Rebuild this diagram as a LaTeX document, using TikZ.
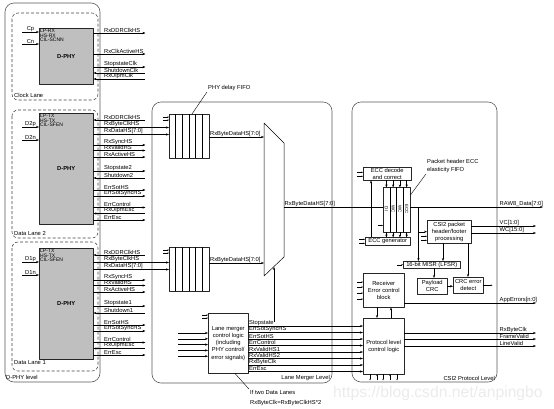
\documentclass[tikz,border=0pt]{standalone}
\usepackage{fontspec}
\setmainfont{Liberation Sans}
\usetikzlibrary{arrows.meta,positioning,calc}
\begin{document}
\begin{tikzpicture}[x=1pt, y=-1pt, font=\fontsize{5.8}{6.8}\selectfont,
    line join=round, >={Stealth[length=3pt,width=2.2pt]},
    blk/.style={draw=black!85, line width=0.45pt, fill=white, inner sep=0pt, anchor=north west, align=center},
    phy/.style={blk, fill=black!25},
    lane/.style={draw=black!75, line width=0.55pt, dash pattern=on 3pt off 2pt, rounded corners=6pt},
    level/.style={draw=black!65, line width=0.6pt, rounded corners=9pt},
    sig/.style={line width=0.4pt},
    o/.style={sig,->}, i/.style={sig,<-},
    lbl/.style={anchor=south west, inner sep=0.5pt},
    tick/.style={line width=0.3pt, -{Stealth[length=1.6pt,width=1.3pt]}},
    ptr/.style={line width=0.4pt},
    phytxt/.style={anchor=north west, align=left, inner sep=1pt, font=\fontsize{5}{4.4}\selectfont}]
\useasboundingbox (0,0) rectangle (554,408);

\node[text=black!8, font=\fontsize{15.7}{16}\selectfont, anchor=base west, inner sep=0pt] (wm) at (333,397) {https://blog.csdn.net/anpingbo};

% D-PHY level
\draw[level] (5,3) rectangle (100,382);
\node[anchor=west, inner sep=1pt] (phylvl) at (5,377) {D-PHY level};

\draw[lane] (12,13) rectangle (98,100);
\node[anchor=west, inner sep=1pt] (clklbl) at (13,95) {Clock Lane};
\draw[lane] (12,110) rectangle (98,238);
\node[anchor=west, inner sep=1pt] (dlalbl) at (13,233) {Data Lane 2};
\draw[lane] (12,242) rectangle (98,371);
\node[anchor=west, inner sep=1pt] (dlblbl) at (13,363) {Data Lane 1};

\node[phy, minimum width=54pt, minimum height=56pt] (clk) at (39,28) {\textbf{D-PHY}};
\node[phytxt] at (clk.north west) {LP-RX\\HS-RX\\CIL-SCNN};
\node[phy, minimum width=54pt, minimum height=111pt] (dla) at (39,113) {\textbf{D-PHY}};
\node[phytxt] at (dla.north west) {LP-TX\\HS-TX\\CIL-SFEN};
\node[phy, minimum width=54pt, minimum height=111pt] (dlb) at (39,248) {\textbf{D-PHY}};
\node[phytxt] at (dlb.north west) {LP-TX\\HS-TX\\CIL-SFEN};

% Lane merger level
\draw[level] (152,102) rectangle (332,383);
\node[anchor=east, inner sep=1pt] (lmlbl) at (331,378) {Lane Merger Level};

\node[blk, minimum width=40pt, minimum height=44pt] (fifoa) at (169,114) {};
\node[blk, minimum width=40pt, minimum height=44pt] (fifob) at (169,247) {};
\foreach \f in {fifoa, fifob} {
  \foreach \i in {1,...,5}
    \draw[sig] ($(\f.north west)+(\i*6.667,0)$) -- ($(\f.south west)+(\i*6.667,0)$);
  \draw[tick] ($(\f.north west)+(-6,3)$) -- ++(6,0);
  \draw[tick] ($(\f.north west)+(-6,6)$) -- ++(6,0);
}
\node[anchor=west, inner sep=1pt] (pdf) at (207,88) {PHY delay FIFO};
\draw[ptr] ($(fifoa.north west)+(23,0)$) -- (pdf.south west);

\coordinate (ma) at (264,123);
\coordinate (mb) at (284,143);
\coordinate (mc) at (284,257);
\coordinate (md) at (264,276);
\draw[line width=0.5pt] (ma) -- (mb) -- (mc) -- (md) -- cycle;
\coordinate (mo) at (284,207);

\node[blk, minimum width=40pt, minimum height=60pt, font=\fontsize{5.8}{7.2}\selectfont] (lmc) at (208,313) {Lane merger\\control logic\\(including\\PHY control/\\error signals)};
\draw[tick] ($(lmc.north west)+(-6,2)$) -- ++(6,0);
\draw[tick] ($(lmc.north west)+(-6,5)$) -- ++(6,0);
\foreach \dy in {20,25.8,31.6,37.4,43.2}
  \draw[o] ($(lmc.north west)+(-30,\dy)$) -- ++(30,0);
\node[anchor=west, align=left, inner sep=1pt, font=\fontsize{5.8}{10}\selectfont] (note) at (249,398) {If two Data Lanes\\RxByteClk=RxByteClkHS*2};
\draw[ptr] ($(lmc.south west)+(27,0)$) -- (note.north west);

% CSI2 protocol level
\draw[level] (352,102) rectangle (497,382);
\node[anchor=east, inner sep=1pt] (csilbl) at (496,378) {CSI2 Protocol Level};

\node[blk, minimum width=48pt, minimum height=13pt] (eccd) at (363,167) {ECC decode\\and correct};
\node[blk, minimum width=27pt, minimum height=45pt] (hfifo) at (383,187) {};
\node[blk, minimum width=45pt, minimum height=8pt] (eccg) at (365,237) {ECC generator};
\foreach \i in {1,2,3}
  \draw[sig] ($(hfifo.north west)+(\i*6.75,0)$) -- ($(hfifo.south west)+(\i*6.75,0)$);
\foreach \i/\t in {0/DI, 1/WC, 2/WC, 3/ECC}
  \node[rotate=-90, font=\fontsize{4.5}{5}\selectfont, inner sep=0pt] at ($(hfifo.north west)+(\i*6.75+3.4,22)$) {\t};
\foreach \i in {0,...,3} {
  \draw[o] ($(eccd.south west)+(\i*6.75+23.4,0)$) -- ++(0,7);
  \draw[o] ($(hfifo.south west)+(\i*6.75+3.4,0)$) -- ++(0,5);
}
\draw[o] ($(eccg.north west)+(6,0)$) coordinate (s) -- (s |- eccd.south);
\draw[tick] ($(eccd.west)+(-6,-1.5)$) -- ++(6,0);
\draw[tick] ($(eccd.west)+(-6,2.5)$) -- ++(6,0);
\draw[tick] ($(eccg.west)+(-6,-2)$) -- ++(6,0);
\draw[tick] ($(eccg.west)+(-6,2)$) -- ++(6,0);
\draw[tick] ($(hfifo.south west)+(-5,-7)$) -- ++(5,0);
\node[anchor=west, align=left, inner sep=1pt, font=\fontsize{5.8}{8}\selectfont] (hlbl) at (426,166) {Packet header ECC\\elasticity FIFO};
\draw[ptr] ($(hfifo.north east)+(0,8)$) -- (hlbl.south west);

\node[blk, minimum width=44pt, minimum height=23pt] (pkt) at (427,220) {CSI2 packet\\header/footer\\processing};
\node[blk, minimum width=57pt, minimum height=7pt] (misr) at (403,261) {16-bit MISR (LFSR)};
\node[blk, minimum width=30pt, minimum height=16pt] (pcrc) at (417,278) {Payload\\CRC};
\node[blk, minimum width=30pt, minimum height=16pt] (crc) at (453,277) {CRC error\\detect};
\node[blk, minimum width=41pt, minimum height=34pt] (rec) at (363,273) {Receiver\\Error control\\block};
\node[blk, minimum width=41pt, minimum height=56pt] (plc) at (363,318) {Protocol level\\control logic};

% clock lane signals
\draw[o] ($(clk.north west)+(-17,4)$) -- ++(17,0) node[midway, above, inner sep=0.5pt] {Cp};
\draw[o] ($(clk.north west)+(-17,16)$) -- ++(17,0) node[midway, above, inner sep=0.5pt] {Cn};
\foreach \dy/\t/\d in {5/RxDDRClkHS/o, 26/RxClkActiveHS/o, 39/StopstateClk/o, 45/ShutdownClk/i, 51/RxUlpmClk/i}
  \draw[\d] ($(clk.north east)+(0,\dy)$) -- ++(52,0) node[lbl, pos=0, xshift=10pt] {\t};

% data lane signals
\foreach \ln/\k/\f in {dla/2/fifoa, dlb/1/fifob} {
  \draw[o] ($(\ln.north west)+(-17,14)$) -- ++(17,0) node[midway, above, inner sep=0.5pt] {D\k p};
  \draw[o] ($(\ln.north west)+(-17,27)$) -- ++(17,0) node[midway, above, inner sep=0.5pt] {D\k n};
  \foreach \dy/\t/\d in {7/RxDDRClkHS/i, 32/RxSyncHS/o, 37.5/RxValidHS/o, 44/RxActiveHS/o, 58/Stopstate\k/o, 65/Shutdown\k/i, 77/ErrSotHS/o, 83/ErrSotSyncHS/o, 94.5/ErrControl/o, 100.5/RxUlpmEsc/i, 107/ErrEsc/o}
    \draw[\d] ($(\ln.north east)+(0,\dy)$) -- ++(52,0) node[lbl, pos=0, xshift=10pt] {\t};
  \foreach \dy/\t in {14.5/RxByteClkHS, 21.5/RxDataHS[7:0]}
    \draw[o] ($(\ln.north east)+(0,\dy)$) coordinate (s) -- (s -| \f.west) node[lbl, pos=0, xshift=10pt] {\t};
}

% lane merger signals
\draw[o] ($(fifoa.north east)+(0,23)$) coordinate (s) -- (s -| ma) node[lbl, pos=0] {RxByteDataHS[7:0]};
\draw[o] ($(fifob.north east)+(0,16)$) coordinate (s) -- (s -| ma) node[lbl, pos=0] {RxByteDataHS[7:0]};
\draw[o] (274,322) -- (274,267);
\foreach \dy/\t in {13/Stopstate, 19.5/ErrSotSyncHS, 26/ErrSotHS, 32.5/ErrControl, 39/RxValidHS1, 45.5/RxValidHS2, 52/RxByteClk, 58.5/ErrEsc}
  \draw[o] ($(lmc.north east)+(0,\dy)$) coordinate (s) -- (s -| plc.west) node[lbl, pos=0] {\t};

% csi2 signals
\draw[sig] (mo) -- (mo -| hfifo.west) node[lbl, pos=0] {RxByteDataHS[7:0]};
\draw[o] (mo -| hfifo.east) -- (mo -| 543,0);
\node[lbl] (rawlbl) at (499,207) {RAW8\_Data[7:0]};
\coordinate (tap) at ($(mo -| hfifo.east)+(8,0)$);
\draw[o] (tap) -- (tap |- misr.north);
\draw[o] (tap |- pkt.west) -- (pkt.west);
\draw[tick] ($(pkt.west)+(-6,4.5)$) -- ++(6,0);
\draw[tick] ($(pkt.west)+(-6,8.5)$) -- ++(6,0);
\foreach \dy/\t in {6/VC[1:0], 13/WC[15:0]} {
  \draw[o] ($(pkt.north east)+(0,\dy)$) coordinate (s) -- (s -| 536,0);
  \node[lbl] at (s -| 499,0) {\t};
}
\draw[o] ($(pkt.south west)+(16,0)$) coordinate (s) -- (s |- misr.north);
\draw[o] ($(pkt.south west)+(41,0)$) coordinate (s) -- (s |- crc.north);
\draw[tick] ($(misr.west)+(-6,0)$) -- (misr.west);
\draw[o] ($(misr.south west)+(31,0)$) coordinate (s) -- (s |- pcrc.north);
\draw[o] (pcrc.east) -- (pcrc.east -| crc.west);
\draw[tick] (crc.east) -- ++(9,0);

\foreach \dy in {9,14,20,26}
  \draw[tick] ($(rec.north west)+(-6,\dy)$) -- ++(6,0);
\draw[o] ($(rec.north east)+(0,30)$) coordinate (s) -- (s -| 536,0);
\node[lbl] (applbl) at (s -| 499,0) {AppErrors[n:0]};
\draw[o] ($(rec.south west)+(14,0)$) coordinate (s) -- (s |- plc.north);
\draw[o] ($(plc.north west)+(28,0)$) coordinate (s) -- (s |- rec.south);
\foreach \dy/\t in {15/RxByteClk, 21/FrameValid, 28/LineValid} {
  \draw[o] ($(plc.north east)+(0,\dy)$) coordinate (s) -- (s -| 536,0);
  \node[lbl] at (s -| 499,0) {\t};
}
\foreach \dx in {7,20,34}
  \draw[tick] ($(plc.south west)+(\dx,0)$) -- ++(0,6);
\foreach \dx in {14,27}
  \draw[tick] ($(plc.south west)+(\dx,6)$) -- ++(0,-6);
\end{tikzpicture}
\end{document}
